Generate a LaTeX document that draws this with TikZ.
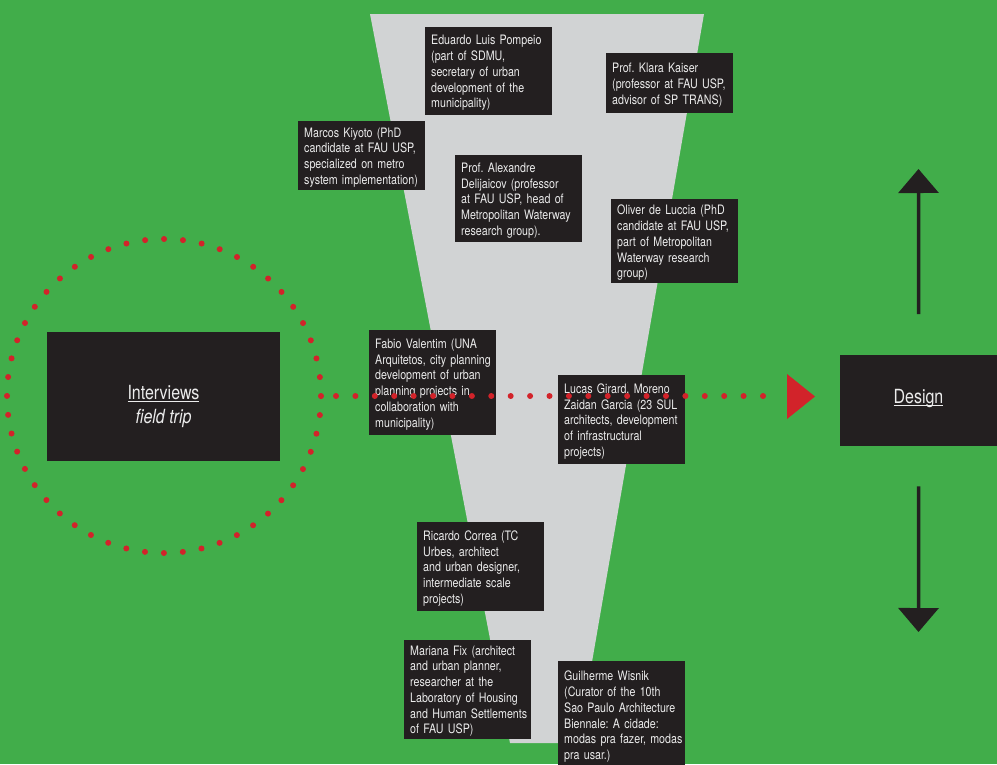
\documentclass[tikz,border=0pt]{standalone}
\usepackage{fontspec}
\setmainfont{TeX Gyre Heros}[FakeStretch=0.82]
\usetikzlibrary{arrows.meta}
\definecolor{bg}{HTML}{41AD4A}
\definecolor{funnelc}{HTML}{D1D3D4}
\definecolor{boxc}{HTML}{231F20}
\definecolor{redc}{HTML}{D2232A}
\definecolor{txtc}{HTML}{ECECEC}
\frenchspacing
\newcommand\myul[1]{\leavevmode\setbox0=\hbox{#1}\rlap{\color{txtc}\rule[-2.6pt]{\wd0}{1.1pt}}\box0}
\newcommand\lines[1]{\begin{tabular}{@{}l@{}}\rule{0pt}{15pt}#1\end{tabular}}
\begin{document}
\begin{tikzpicture}[x=1pt,y=-1pt,
  infobox/.style={fill=boxc, text=txtc, anchor=north west, minimum width=127pt,
    text width=115pt, inner xsep=6pt, inner ysep=0pt, align=left,
    font=\fontsize{13}{15.75}\selectfont},
  bigbox/.style={fill=boxc, anchor=north west, inner sep=0pt},
  bigtext/.style={text=txtc, inner sep=0pt, font=\fontsize{19.5}{24}\selectfont},
  dotline/.style={draw=redc, line width=6pt, line cap=round, dash pattern=on 0pt off 19.41pt},
  bigarrow/.style={draw=boxc, line width=3.5pt, -{Triangle[width=40pt,length=24pt]}}
]
\fill[bg] (0,0) rectangle (997,764);
\useasboundingbox (0,0) rectangle (997,764);
% funnel
\fill[funnelc] (370,14) -- (704,14) -- (578,743) -- (510,743) -- cycle;
% ring
\node[circle, minimum size=314pt, inner sep=0pt, outer sep=0pt, draw=redc, line width=6pt,
  line cap=round, dash pattern=on 0pt off 18.97pt] (ring) at (164,396) {};
% interviews
\node[bigbox, minimum width=233pt, minimum height=129pt] (ivbox) at (47,332) {};
\node[bigtext, anchor=north, align=center] (ivtext) at (163.5,385) {\myul{Interviews}\\\textit{field trip}};
% info boxes
\node[infobox, minimum height=88pt] (eduardo) at (425,27) {\lines{Eduardo Luis Pompeio\\(part of SDMU,\\secretary of urban\\development of the\\municipality)}};
\node[infobox, minimum height=60pt] (klara) at (606,53) {\lines{Prof. Klara Kaiser\\(professor at FAU USP,\\advisor of SP TRANS)}};
\node[infobox, minimum height=69pt] (marcos) at (298,121) {\lines{Marcos Kiyoto (PhD\\candidate at FAU USP,\\specialized on metro\\system implementation)}};
\node[infobox, minimum height=87pt] (alexandre) at (455,155) {\lines{Prof. Alexandre\\Delijaicov (professor\\at FAU USP, head of\\Metropolitan Waterway\\research group).}};
\node[infobox, minimum height=84pt] (oliver) at (611,199) {\lines{Oliver de Luccia (PhD\\candidate at FAU USP,\\part of Metropolitan\\Waterway research\\group)}};
\node[infobox, minimum height=105pt] (fabio) at (369,330) {\lines{Fabio Valentim (UNA\\Arquitetos, city planning\\development of urban\\planning projects in\\collaboration with\\municipality)}};
\node[infobox, minimum height=89pt] (lucas) at (558,375) {\lines{Lucas Girard, Moreno\\Zaidan Garcia (23 SUL\\architects, development\\of infrastructural\\projects)}};
\node[infobox, minimum height=89pt] (ricardo) at (417,522) {\lines{Ricardo Correa (TC\\Urbes, architect\\and urban designer,\\intermediate scale\\projects)}};
\node[infobox, minimum height=98pt] (mariana) at (404,640) {\lines{Mariana Fix (architect\\and urban planner,\\researcher at the\\Laboratory of Housing\\and Human Settlements\\of FAU USP)}};
\node[infobox, minimum height=108pt] (guilherme) at (558,661) {\lines{Guilherme Wisnik\\(Curator of the 10th\\Sao Paulo Architecture\\Biennale: A cidade:\\modas pra fazer, modas\\pra usar.)}};
% triangle and dotted connector
\coordinate (tri) at (787,396);
\fill[redc] (787,374) -- (815,396.5) -- (787,419) -- cycle;
\draw[dotline, shorten <=15pt, shorten >=23.5pt] (ring.east) -- (tri);
% design
\node[bigbox, minimum width=157pt, minimum height=91pt] (design) at (840,355) {};
\node[bigtext, anchor=base] (designtext) at (918.5,403) {\myul{Design}};
% arrows
\coordinate (uptip) at (918.5,169);
\coordinate (downtip) at (918.5,632);
\draw[bigarrow, shorten <=41pt] (design.north) -- (uptip);
\draw[bigarrow, shorten <=40pt] (design.south) -- (downtip);
\end{tikzpicture}
\end{document}
